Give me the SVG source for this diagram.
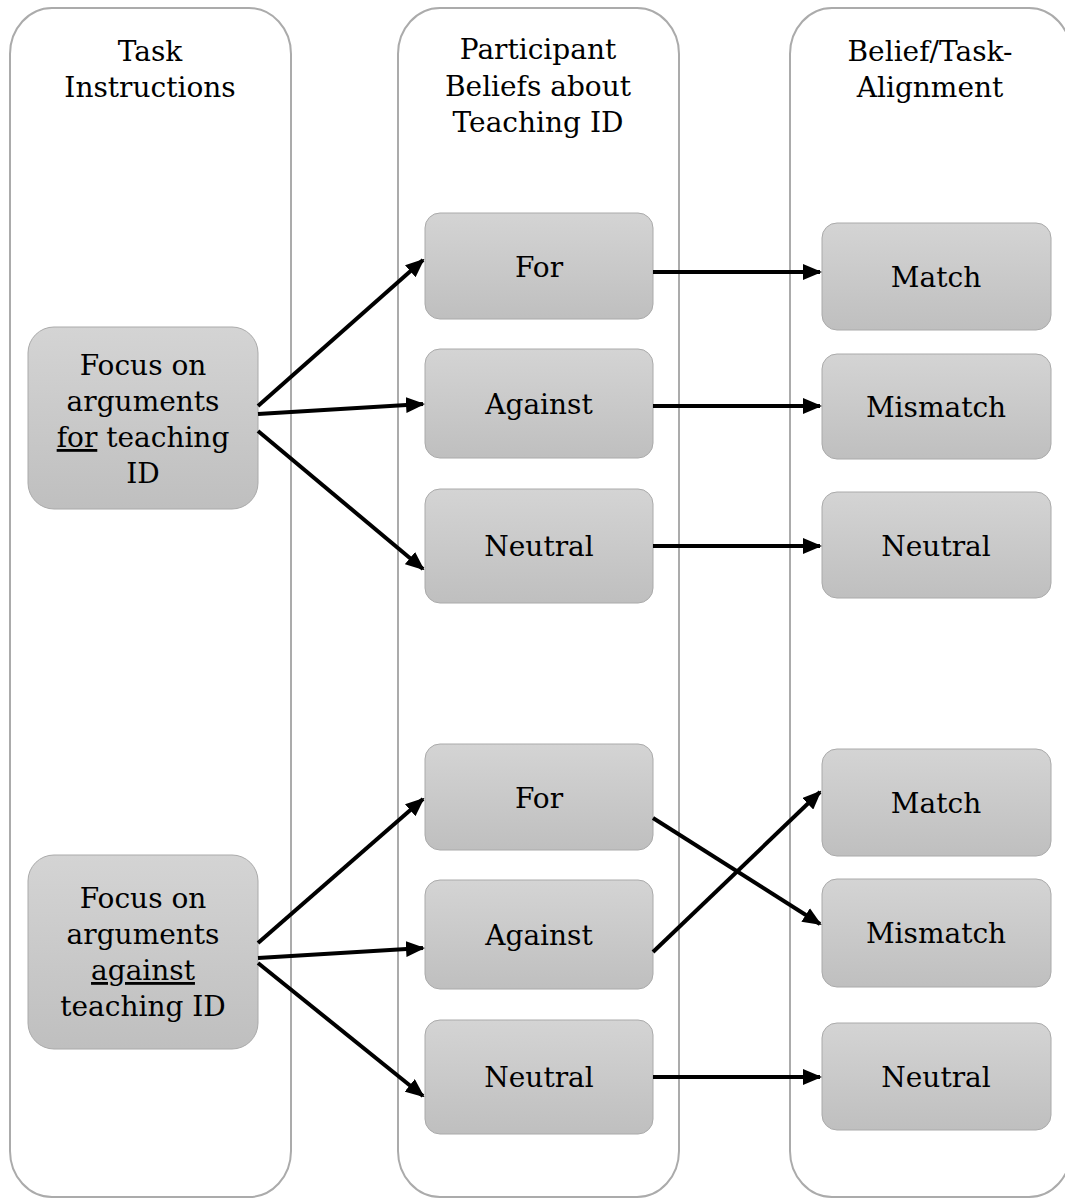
<svg xmlns="http://www.w3.org/2000/svg" width="1065" height="1199" viewBox="0 0 1065 1199">
<defs>
<linearGradient id="g" x1="0" y1="0" x2="0" y2="1">
<stop offset="0" stop-color="#d4d4d4"/>
<stop offset="1" stop-color="#bfbfbf"/>
</linearGradient>
<marker id="ah" markerUnits="userSpaceOnUse" markerWidth="19" markerHeight="16" refX="17" refY="8" orient="auto">
<path d="M0,0 L19,8 L0,16 z" fill="#000"/>
</marker>
<style>
.col{fill:#fff;stroke:#ababab;stroke-width:2}
.box{fill:url(#g);stroke:#aaaaaa;stroke-width:1}
text{font-family:"DejaVu Serif","Liberation Serif",serif;font-size:28px;fill:#000;text-anchor:middle}
.c line{stroke:#000;stroke-width:4;marker-end:url(#ah)}
.u{text-decoration:underline}
</style>
</defs>
<rect width="1065" height="1199" fill="#fff"/>
<g id="col-task">
<rect class="col" x="10" y="8" width="281" height="1189" rx="42" ry="46"/>
<text x="150" y="61">Task</text>
<text x="150" y="97">Instructions</text>
</g>
<g id="col-beliefs">
<rect class="col" x="398" y="8" width="281" height="1189" rx="42" ry="46"/>
<text x="538" y="59">Participant</text>
<text x="538" y="96">Beliefs about</text>
<text x="538" y="132">Teaching ID</text>
</g>
<g id="col-align">
<rect class="col" x="790" y="8" width="281" height="1189" rx="42" ry="46"/>
<text x="930" y="61">Belief/Task-</text>
<text x="930" y="97">Alignment</text>
</g>
<g id="n-focus-for">
<rect class="box" x="28" y="327" width="230" height="182" rx="26"/>
<text x="143" y="375">Focus on</text>
<text x="143" y="411">arguments</text>
<text x="143" y="447"><tspan class="u">for</tspan> teaching</text>
<text x="143" y="483">ID</text>
</g>
<g id="n-focus-against">
<rect class="box" x="28" y="855" width="230" height="194" rx="26"/>
<text x="143" y="908">Focus on</text>
<text x="143" y="944">arguments</text>
<text x="143" y="980" class="u">against</text>
<text x="143" y="1016">teaching ID</text>
</g>
<g id="n-b1-for"><rect class="box" x="425" y="213" width="228" height="106" rx="15"/><text x="539" y="277">For</text></g>
<g id="n-b1-against"><rect class="box" x="425" y="349" width="228" height="109" rx="15"/><text x="539" y="414">Against</text></g>
<g id="n-b1-neutral"><rect class="box" x="425" y="489" width="228" height="114" rx="15"/><text x="539" y="556">Neutral</text></g>
<g id="n-a1-match"><rect class="box" x="822" y="223" width="229" height="107" rx="15"/><text x="936" y="287">Match</text></g>
<g id="n-a1-mismatch"><rect class="box" x="822" y="354" width="229" height="105" rx="15"/><text x="936" y="417">Mismatch</text></g>
<g id="n-a1-neutral"><rect class="box" x="822" y="492" width="229" height="106" rx="15"/><text x="936" y="556">Neutral</text></g>
<g id="n-b2-for"><rect class="box" x="425" y="744" width="228" height="106" rx="15"/><text x="539" y="808">For</text></g>
<g id="n-b2-against"><rect class="box" x="425" y="880" width="228" height="109" rx="15"/><text x="539" y="945">Against</text></g>
<g id="n-b2-neutral"><rect class="box" x="425" y="1020" width="228" height="114" rx="15"/><text x="539" y="1087">Neutral</text></g>
<g id="n-a2-match"><rect class="box" x="822" y="749" width="229" height="107" rx="15"/><text x="936" y="813">Match</text></g>
<g id="n-a2-mismatch"><rect class="box" x="822" y="879" width="229" height="108" rx="15"/><text x="936" y="943">Mismatch</text></g>
<g id="n-a2-neutral"><rect class="box" x="822" y="1023" width="229" height="107" rx="15"/><text x="936" y="1087">Neutral</text></g>
<g id="connectors" class="c">
<line x1="258" y1="406" x2="423" y2="260"/>
<line x1="258" y1="414" x2="423" y2="404"/>
<line x1="258" y1="431" x2="423" y2="569"/>
<line x1="653" y1="272" x2="820" y2="272"/>
<line x1="653" y1="406" x2="820" y2="406"/>
<line x1="653" y1="546" x2="820" y2="546"/>
<line x1="258" y1="943" x2="423" y2="799"/>
<line x1="258" y1="958" x2="423" y2="948"/>
<line x1="258" y1="963" x2="423" y2="1096"/>
<line x1="653" y1="818" x2="820" y2="924"/>
<line x1="653" y1="952" x2="820" y2="792"/>
<line x1="653" y1="1077" x2="820" y2="1077"/>
</g>
</svg>
